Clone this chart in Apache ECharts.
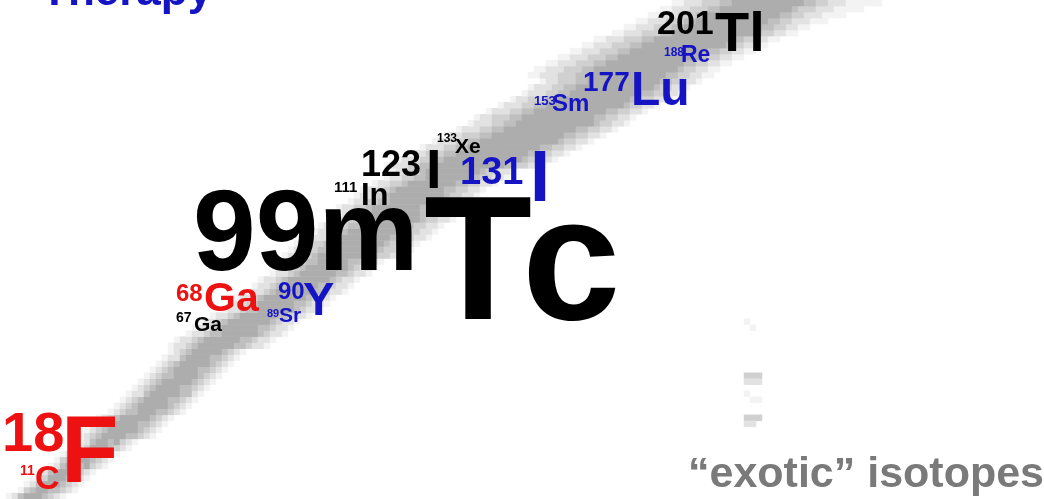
<!DOCTYPE html>
<html>
<head>
<meta charset="utf-8">
<script src="https://cdn.jsdelivr.net/npm/echarts@6/dist/echarts.min.js"></script>
<style>
html,body{margin:0;padding:0;background:#fff;}
#chart{width:1044px;height:499px;}
</style>
</head>
<body>
<div id="chart"></div>
<script>
// ---- Data: chart of nuclides band (row = proton count bin, from bottom) ----
// each row: first column index and intensity string (1 = faint ... 5 = dense)
const bandRowStart = [
  1,3,4,5,6,8,9,10,12,13,
  13,14,15,16,18,19,20,21,22,23,24,25,26,27,28,
  28,29,31,32,33,35,37,38,39,41,42,43,45,46,47,
  47,48,49,51,52,53,55,56,56,58,59,60,62,64,65,
  64,66,68,70,72,74,76,78,79,81,83,85,87,88,90,
  88,89,91,93,95,97,99,102,104,106,108,110,112
];
const bandRowCells = [
  "1245554321","1345544321","1245554321","1235554421","1245555321",
  "1245545321","1345554321","1245555421","1235554321","1245545321",
  "1234555544321","1234555554321","1224555544321","1234555554321","1234455544321",
  "1234555554321","1234555544321","1224555554421","1234555544321","1234555554321",
  "1234455554321","1234555544321","1234555554321","1224555544321","1234555554321",
  "12234555555443221","12234555555443221","12234455555543221","12234555555443221","12234555555543221",
  "12234555555443221","12234455555543221","12234555555443221","12234555555543221","12234555555443221",
  "12234455555443221","12234555555543221","12234555555443221","12234555555543221","12234455555443221",
  "122334555555554433221","122334455555555433221","122334555555555433221","122234555555554433221","122334555555554433221",
  "122334455555555433221","122334555555555433221","122234555555554433221","122334555555554433221","122334455555555433221",
  "122334555555555433221","122234555555554433221","122334555555554433221","122334455555555433221","122334555555555433221",
  "122233445555555555554433221","122233445555555555555433221","122333445555555555554433221","122233445555555555554433221","122233445555555555555433221",
  "122333445555555555554433221","122233445555555555554433221","122233445555555555555433221","122333445555555555554433221","122233445555555555554433221",
  "122233445555555555555433221","122333445555555555554433221","122233445555555555554433221","122233445555555555555433221","122333445555555555554433221",
  "1122233344555555555555544332211","1122233344555555555555554332211","1122233344555555555555544332211","1122233344555555555555554332211","1122233344555555555555544332211",
  "1122233344555555555555554332211","1122233344555555555555544332211","1122233344555555555555554332211","1122233344555555555555544332211","11222333445555555555554433222111",
  "112223334455555555555544332221111","1122233344555555555555433322211111","11222333445555555555554433222111111"
];
// isolated "exotic" cells: [column, row, intensity]
const exoticCells = [
  [124,20,3],[125,20,3],[126,20,3],[124,19,2],[125,19,2],[126,19,2],
  [124,17,1],[125,16,1],[126,16,1],
  [124,13,3],[125,13,3],[126,13,3],[124,12,2],[125,12,2],
  [124,29,1],[125,28,1]
];
const isotopeMass   = ['18','11','68','67','90','89','99m','111','123','131','133','153','177','188','201'];
const isotopeSymbol = ['F','C','Ga','Ga','Y','Sr','Tc','In','I','I','Xe','Sm','Lu','Re','Tl'];
const captionTexts  = ['Therapy','\u201Cexotic\u201D isotopes'];

// ---- Build heatmap from the arrays ----
const NX = 174, NY = 83;
const xCats = [], yCats = [];
for (let i = 0; i < NX; i++) xCats.push(i);
for (let j = 0; j < NY; j++) yCats.push(j);
const cells = [];
bandRowCells.forEach((s, j) => {
  for (let k = 0; k < s.length; k++) {
    const i = bandRowStart[j] + k;
    if (i >= 0 && i < NX) cells.push([i, j, +s[k]]);
  }
});
exoticCells.forEach(c => cells.push(c));

// ---- Text layout ----
const FONT = '"Liberation Sans", Arial, Helvetica, sans-serif';
const BLACK = '#000000', BLUE = '#1414c4', RED = '#ee1111', GRAY = '#7a7a7a';
function txt(text, x, baseline, size, color, sx) {
  return {
    type: 'text', z: 100, x: x, y: baseline - 0.31 * size,
    scaleX: sx || 1,
    style: {
      text: text, fill: color,
      font: 'bold ' + size + 'px ' + FONT,
      fontSize: size, fontWeight: 'bold', fontFamily: FONT,
      align: 'left', textAlign: 'left',
      verticalAlign: 'middle', textVerticalAlign: 'middle'
    }
  };
}
const M = isotopeMass, S = isotopeSymbol;
const graphics = [
  txt(captionTexts[0], 41, 6, 44, BLUE),
  txt(captionTexts[1], 688, 488, 43, GRAY),
  // 18F / 11C
  txt(M[0], 2, 453, 56, RED), txt(S[0], 61, 485, 94, RED),
  txt(M[1], 20, 475, 14, RED), txt(S[1], 35, 490, 34, RED),
  // 68Ga / 67Ga
  txt(M[2], 176, 302, 24, RED), txt(S[2], 204, 312, 41, RED),
  txt(M[3], 176, 322, 14, BLACK), txt(S[3], 194, 332, 21, BLACK),
  // 90Y / 89Sr
  txt(M[4], 278, 300, 24, BLUE), txt(S[4], 303, 317, 47, BLUE),
  txt(M[5], 267, 317, 11, BLUE), txt(S[5], 279, 323, 21, BLUE),
  // 99mTc
  txt(M[6], 193, 274, 115, BLACK, 0.98),
  txt(S[6].charAt(0), 424, 325, 177, BLACK), txt(S[6].charAt(1), 522, 325, 177, BLACK),
  // 111In
  txt(M[7], 334, 193, 15, BLACK), txt(S[7], 361, 206, 31, BLACK),
  // 123I
  txt(M[8], 361, 177, 36, BLACK), txt(S[8], 426, 190, 56, BLACK),
  // 131I
  txt(M[9], 460, 185, 38, BLUE), txt(S[9], 530, 203, 72, BLUE),
  // 133Xe
  txt(M[10], 437, 142, 12, BLACK), txt(S[10], 455, 154, 21, BLACK),
  // 153Sm
  txt(M[11], 534, 105, 13, BLUE), txt(S[11], 552, 112, 24, BLUE),
  // 177Lu
  txt(M[12], 583, 92, 28, BLUE), txt(S[12], 631, 107, 48, BLUE),
  // 188Re
  txt(M[13], 664, 56, 12, BLUE), txt(S[13], 681, 63, 23, BLUE),
  // 201Tl
  txt(M[14], 657, 35, 34, BLACK), txt(S[14], 715, 53, 56, BLACK)
];

const chart = echarts.init(document.getElementById('chart'), null, {renderer: 'canvas'});
chart.setOption({
  animation: false,
  backgroundColor: '#ffffff',
  grid: {left: 0, right: 0, top: 0, bottom: 0, containLabel: false},
  xAxis: {type: 'category', data: xCats, show: false, boundaryGap: true},
  yAxis: {type: 'category', data: yCats, show: false, boundaryGap: true},
  visualMap: {
    show: false, type: 'continuous', min: 1, max: 5, dimension: 2,
    inRange: {color: ['#f3f3f3', '#adadad']}
  },
  series: [{
    type: 'heatmap', data: cells,
    itemStyle: {borderWidth: 0},
    emphasis: {disabled: true}
  }],
  graphic: graphics
});
</script>
</body>
</html>
